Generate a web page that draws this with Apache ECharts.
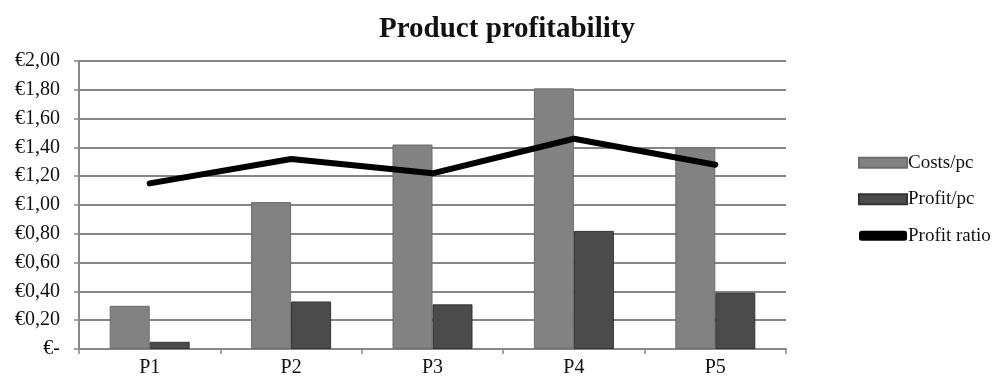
<!DOCTYPE html>
<html>
<head>
<meta charset="utf-8">
<script src="https://cdn.jsdelivr.net/npm/echarts@6/dist/echarts.min.js"></script>
<style>
  html, body { margin: 0; padding: 0; background: #fff; }
  #chart { width: 996px; height: 378px; }
</style>
</head>
<body>
<div id="chart"></div>
<script>
// Per-product cost, profit and profit ratio
const products = ['P1', 'P2', 'P3', 'P4', 'P5'];
const costsPerPc = [0.30, 1.02, 1.42, 1.81, 1.40];
const profitPerPc = [0.05, 0.33, 0.31, 0.82, 0.39];
const profitRatio = [1.15, 1.32, 1.22, 1.46, 1.28];

const serif = '"Liberation Serif", "Times New Roman", serif';

function euro(v) {
  if (Math.abs(v) < 1e-9) return '€-';
  return '€' + v.toFixed(2).replace('.', ',');
}

const chart = echarts.init(document.getElementById('chart'));
chart.setOption({
  backgroundColor: '#fff',
  animation: false,
  title: {
    text: 'Product profitability',
    left: 502,
    textAlign: 'center',
    top: 10,
    textStyle: { fontFamily: serif, fontWeight: 'bold', fontSize: 29, color: '#111' }
  },
  legend: {
    orient: 'vertical',
    left: 853,
    top: 148,
    itemWidth: 48,
    itemHeight: 10,
    itemGap: 17,
    textStyle: { fontFamily: serif, fontSize: 19, color: '#111', lineHeight: 19.5, padding: [0, 0, 0, -4] },
    data: [
      { name: 'Costs/pc', icon: 'rect' },
      { name: 'Profit/pc', icon: 'rect' },
      { name: 'Profit ratio', icon: 'roundRect', itemStyle: { color: '#000' } }
    ]
  },
  grid: { left: 79, right: 210, top: 61, bottom: 29, containLabel: false },
  xAxis: {
    type: 'category',
    data: products,
    axisLine: { lineStyle: { color: '#888', width: 2 } },
    axisTick: { show: true, length: 5, lineStyle: { color: '#888', width: 1.5 } },
    axisLabel: { fontFamily: serif, fontSize: 20, color: '#111', margin: 9 }
  },
  yAxis: {
    type: 'value',
    min: 0,
    max: 2,
    interval: 0.2,
    axisLine: { show: true, lineStyle: { color: '#888', width: 2 } },
    axisTick: { show: true, length: 5, lineStyle: { color: '#888', width: 1.5 } },
    splitLine: { lineStyle: { color: '#868686', width: 2 } },
    axisLabel: { fontFamily: serif, fontSize: 20, color: '#111', margin: 19, formatter: euro }
  },
  series: [
    {
      name: 'Costs/pc',
      type: 'bar',
      data: costsPerPc,
      barWidth: 40,
      barGap: '0%',
      itemStyle: { color: '#828282', borderColor: '#6c6c6c', borderWidth: 1 }
    },
    {
      name: 'Profit/pc',
      type: 'bar',
      data: profitPerPc,
      barWidth: 40,
      barGap: '0%',
      itemStyle: { color: '#4b4b4b', borderColor: '#333', borderWidth: 1 }
    },
    {
      name: 'Profit ratio',
      type: 'line',
      data: profitRatio,
      showSymbol: false,
      symbol: 'none',
      lineStyle: { color: '#000', width: 6, cap: 'round', join: 'round' },
      itemStyle: { color: '#000' },
      z: 5
    }
  ]
});
</script>
</body>
</html>
